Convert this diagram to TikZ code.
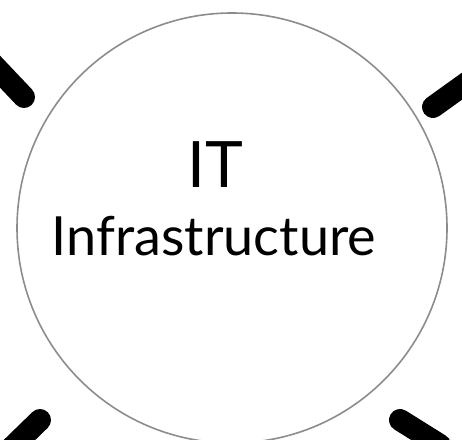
\documentclass[tikz,border=0pt]{standalone}
\usepackage{fontspec}
\setmainfont{Lato}
\tikzset{
  spoke/.style={line width=22pt,line cap=round,black},
  ring/.style={circle,draw=black!45,line width=1.6pt,minimum size=430pt,inner sep=0pt}
}
\begin{document}
\begin{tikzpicture}[x=1pt,y=1pt]
    \useasboundingbox (0,0) rectangle (462,439);
		\node[ring] (hub) at (232,211) {};
		\node[anchor=base,font=\fontsize{64}{70}\selectfont] (it) at (215,251) {IT};
		\node[anchor=base,font=\fontsize{54}{60}\selectfont] (infra) at (214,183) {Infrastructure};
		% spokes at the corners
		\draw[spoke](-12,380)--(24,342);
		\draw[spoke](472,360)--(433,332);
		\draw[spoke](2,-18)--(40,19);
		\draw[spoke](440,-6)--(400,19);
	    \end{tikzpicture}
\end{document}
